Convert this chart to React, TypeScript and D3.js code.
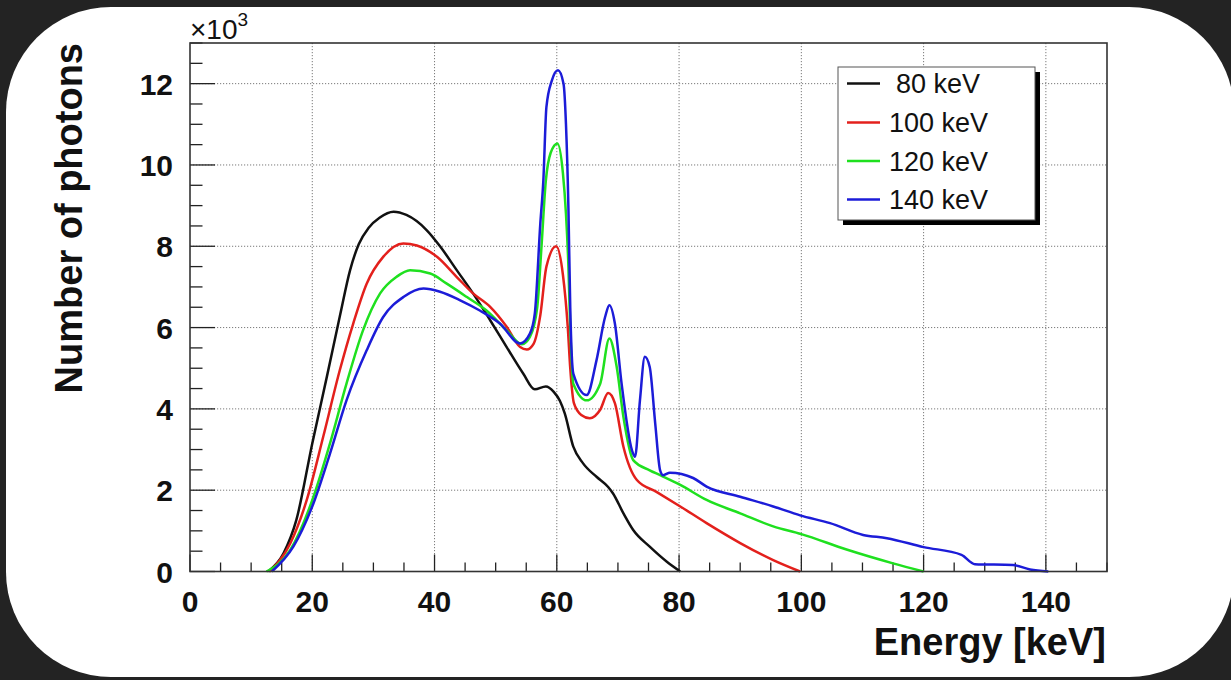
import React from "react";
import * as d3 from "d3";

// ---- data (Energy in keV, counts in thousands) ----
const energy80 = [12.8, 15.3, 17.4, 20, 22.4, 24.5, 26.2, 27.6, 29.2, 31, 33.3, 35.4, 38.7, 40.9, 43.6, 46.3, 49.1, 51.8, 54.5, 56.4, 58.2, 59.5, 60.5, 61.3, 62.7, 64.3, 66.5, 68.4, 69.2, 70.9, 72.5, 75.2, 78, 80.2];
const counts80 = [0, 0.45, 1.27, 3.15, 4.8, 6.27, 7.42, 8.05, 8.45, 8.7, 8.85, 8.77, 8.4, 8.0, 7.42, 6.84, 6.18, 5.52, 4.87, 4.48, 4.55, 4.42, 4.2, 3.89, 3.07, 2.66, 2.33, 2.08, 1.92, 1.43, 1.02, 0.61, 0.24, 0];

const energy100 = [13, 16.4, 19.1, 21.8, 24.5, 26.7, 28.9, 31.6, 34.9, 37.1, 40.4, 43.6, 46.3, 49.1, 51.8, 54, 55.1, 56.2, 57.3, 58.3, 59.9, 61, 61.8, 62.2, 62.8, 64, 65.4, 67.1, 68.4, 69.5, 70.9, 73.1, 76.3, 80.2, 84.5, 90, 95.4, 99.8];
const counts100 = [0, 0.69, 1.76, 3.32, 4.95, 6.1, 7.08, 7.74, 8.07, 8.02, 7.74, 7.25, 6.84, 6.51, 6.02, 5.52, 5.46, 5.6, 6.3, 7.5, 8.0, 7.3, 6.0, 5.0, 4.14, 3.85, 3.77, 3.98, 4.39, 4.14, 3.07, 2.25, 1.96, 1.6, 1.19, 0.7, 0.28, 0];

const energy120 = [12.5, 16.4, 20.2, 22.9, 25.6, 28.3, 31.1, 33.8, 36, 39.3, 42, 45.3, 48.5, 51.8, 54.3, 55.6, 56.8, 57.5, 58.2, 59, 60.1, 61, 61.5, 61.9, 62.2, 62.7, 64.9, 67.1, 68.6, 69.8, 70.9, 72.5, 75.2, 76.9, 80.2, 84.5, 90, 95.4, 100, 107.4, 115, 120];
const counts120 = [0, 0.53, 1.84, 3.15, 4.62, 5.93, 6.84, 7.25, 7.41, 7.33, 7.08, 6.75, 6.42, 5.93, 5.59, 5.77, 6.5, 8.0, 9.6, 10.3, 10.53, 9.8, 8.8, 7.5, 6.0, 4.62, 4.21, 4.62, 5.73, 5.03, 3.8, 2.74, 2.49, 2.37, 2.13, 1.76, 1.43, 1.11, 0.92, 0.54, 0.2, 0];

const energy140 = [13.4, 16.9, 20.2, 22.9, 25.6, 28.9, 31.6, 34.9, 38.2, 40.9, 44.2, 47.4, 50.7, 54, 55.6, 56.4, 57.3, 57.8, 58.3, 59.2, 60.2, 61.1, 61.5, 61.9, 62.2, 62.7, 64.9, 66.5, 67.9, 68.6, 69.5, 70.6, 72.3, 72.8, 73.6, 74.4, 75.2, 76.1, 76.9, 77.4, 78.5, 82.3, 84.5, 90, 95.4, 99.8, 104.7, 110.1, 114, 120, 126.2, 128.4, 134.6, 137.4, 140.4];
const counts140 = [0, 0.61, 1.68, 2.9, 4.21, 5.44, 6.26, 6.75, 6.96, 6.88, 6.67, 6.42, 6.1, 5.61, 5.85, 6.34, 8.55, 9.62, 11.42, 12.08, 12.33, 12.0, 11.0, 8.95, 6.5, 4.87, 4.34, 5.2, 6.26, 6.55, 6.1, 4.62, 2.98, 2.82, 4.21, 5.28, 5.03, 3.64, 2.49, 2.37, 2.43, 2.3, 2.09, 1.84, 1.6, 1.38, 1.19, 0.9, 0.82, 0.6, 0.41, 0.18, 0.16, 0.05, 0];

const seriesLabels = ["80 keV", "100 keV", "120 keV", "140 keV"];
const seriesColors = ["#111111", "#e3201c", "#1fe01f", "#1c1cd8"];
const xTickValues = [0, 20, 40, 60, 80, 100, 120, 140];
const yTickValues = [0, 2, 4, 6, 8, 10, 12];

const W = 1231;
const H = 680;
const L = 190, R = 1107, T = 43, B = 571.5;
const FONT = "'Liberation Sans', Arial, Helvetica, sans-serif";

export default function App() {
  const x = d3.scaleLinear().domain([0, 150]).range([L, R]);
  const y = d3.scaleLinear().domain([0, 13]).range([B, T]);
  const series = [
    [energy80, counts80],
    [energy100, counts100],
    [energy120, counts120],
    [energy140, counts140],
  ];
  const line = d3
    .line<[number, number]>()
    .x((d) => x(d[0]))
    .y((d) => y(d[1]))
    .curve(d3.curveMonotoneX);

  const xMinor = d3.range(0, 151, 5).filter((v) => v % 20 !== 0);
  const xMajor = d3.range(0, 151, 20);
  const yMinor = d3.range(0, 13.01, 0.5).filter((v) => Math.abs(v % 2) > 1e-6);

  const legX = 838, legY = 67, legW = 197, legH = 153;
  const legRows = [83.5, 122.5, 161, 199.5];

  return (
    <svg
      width={W}
      height={H}
      style={{ position: "absolute", left: 0, top: 0, display: "block" }}
      fontFamily={FONT}
    >
      <rect x={0} y={0} width={W} height={H} fill="#232323" />
      <rect x={6} y={7} width={1228} height={670} rx={105} ry={105} fill="#ffffff" />

      {/* grid */}
      <g stroke="#7a7a7a" strokeWidth={1} strokeDasharray="1.2,1.8">
        {xTickValues.filter((v) => v > 0).map((v) => (
          <line key={"gx" + v} x1={x(v)} x2={x(v)} y1={T} y2={B} />
        ))}
        {yTickValues.filter((v) => v > 0).map((v) => (
          <line key={"gy" + v} x1={L} x2={R} y1={y(v)} y2={y(v)} />
        ))}
      </g>

      {/* ticks */}
      <g stroke="#222" strokeWidth={1.3}>
        {xMajor.map((v) => (
          <line key={"xM" + v} x1={x(v)} x2={x(v)} y1={B} y2={B - 17} />
        ))}
        {xMinor.map((v) => (
          <line key={"xm" + v} x1={x(v)} x2={x(v)} y1={B} y2={B - 9} />
        ))}
        {yTickValues.map((v) => (
          <line key={"yM" + v} x1={L} x2={L + 25} y1={y(v)} y2={y(v)} />
        ))}
        {yMinor.map((v) => (
          <line key={"ym" + v} x1={L} x2={L + 12.5} y1={y(v)} y2={y(v)} />
        ))}
      </g>

      {/* curves */}
      <g fill="none" strokeWidth={2.5} strokeLinejoin="round">
        {series.map(([ex, cy], i) => (
          <path
            key={"s" + i}
            d={line(ex.map((e, j) => [e, cy[j]] as [number, number])) || ""}
            stroke={seriesColors[i]}
          />
        ))}
      </g>

      {/* frame */}
      <rect x={L} y={T} width={R - L} height={B - T} fill="none" stroke="#333" strokeWidth={1.6} />

      {/* tick labels */}
      <g fontSize={30} fontWeight="bold" fill="#111">
        {xTickValues.map((v) => (
          <text key={"xl" + v} x={x(v)} y={612} textAnchor="middle">
            {v}
          </text>
        ))}
        {yTickValues.map((v) => (
          <text key={"yl" + v} x={173} y={y(v) + 11} textAnchor="end">
            {v}
          </text>
        ))}
      </g>

      {/* exponent */}
      <text x={190} y={39} fontSize={28} fill="#111">
        ×10
        <tspan dy={-13} fontSize={19}>3</tspan>
      </text>

      {/* axis titles */}
      <text x={1106} y={655} fontSize={38} fontWeight="bold" textAnchor="end" fill="#111">
        Energy [keV]
      </text>
      <text
        transform={`translate(82,${T}) rotate(-90)`}
        fontSize={38}
        fontWeight="bold"
        textAnchor="end"
        fill="#111"
      >
        Number of photons
      </text>

      {/* legend */}
      <rect x={legX + 5} y={legY + 5} width={legW} height={legH} fill="#000" />
      <rect x={legX} y={legY} width={legW} height={legH} fill="#fff" stroke="#555" strokeWidth={1} />
      {seriesLabels.map((lab, i) => (
        <g key={"lg" + i}>
          <line x1={847} x2={880} y1={legRows[i]} y2={legRows[i]} stroke={seriesColors[i]} strokeWidth={2.6} />
          <text x={i === 0 ? 896 : 889} y={legRows[i] + 9.5} fontSize={27} fill="#111">
            {lab}
          </text>
        </g>
      ))}
    </svg>
  );
}
